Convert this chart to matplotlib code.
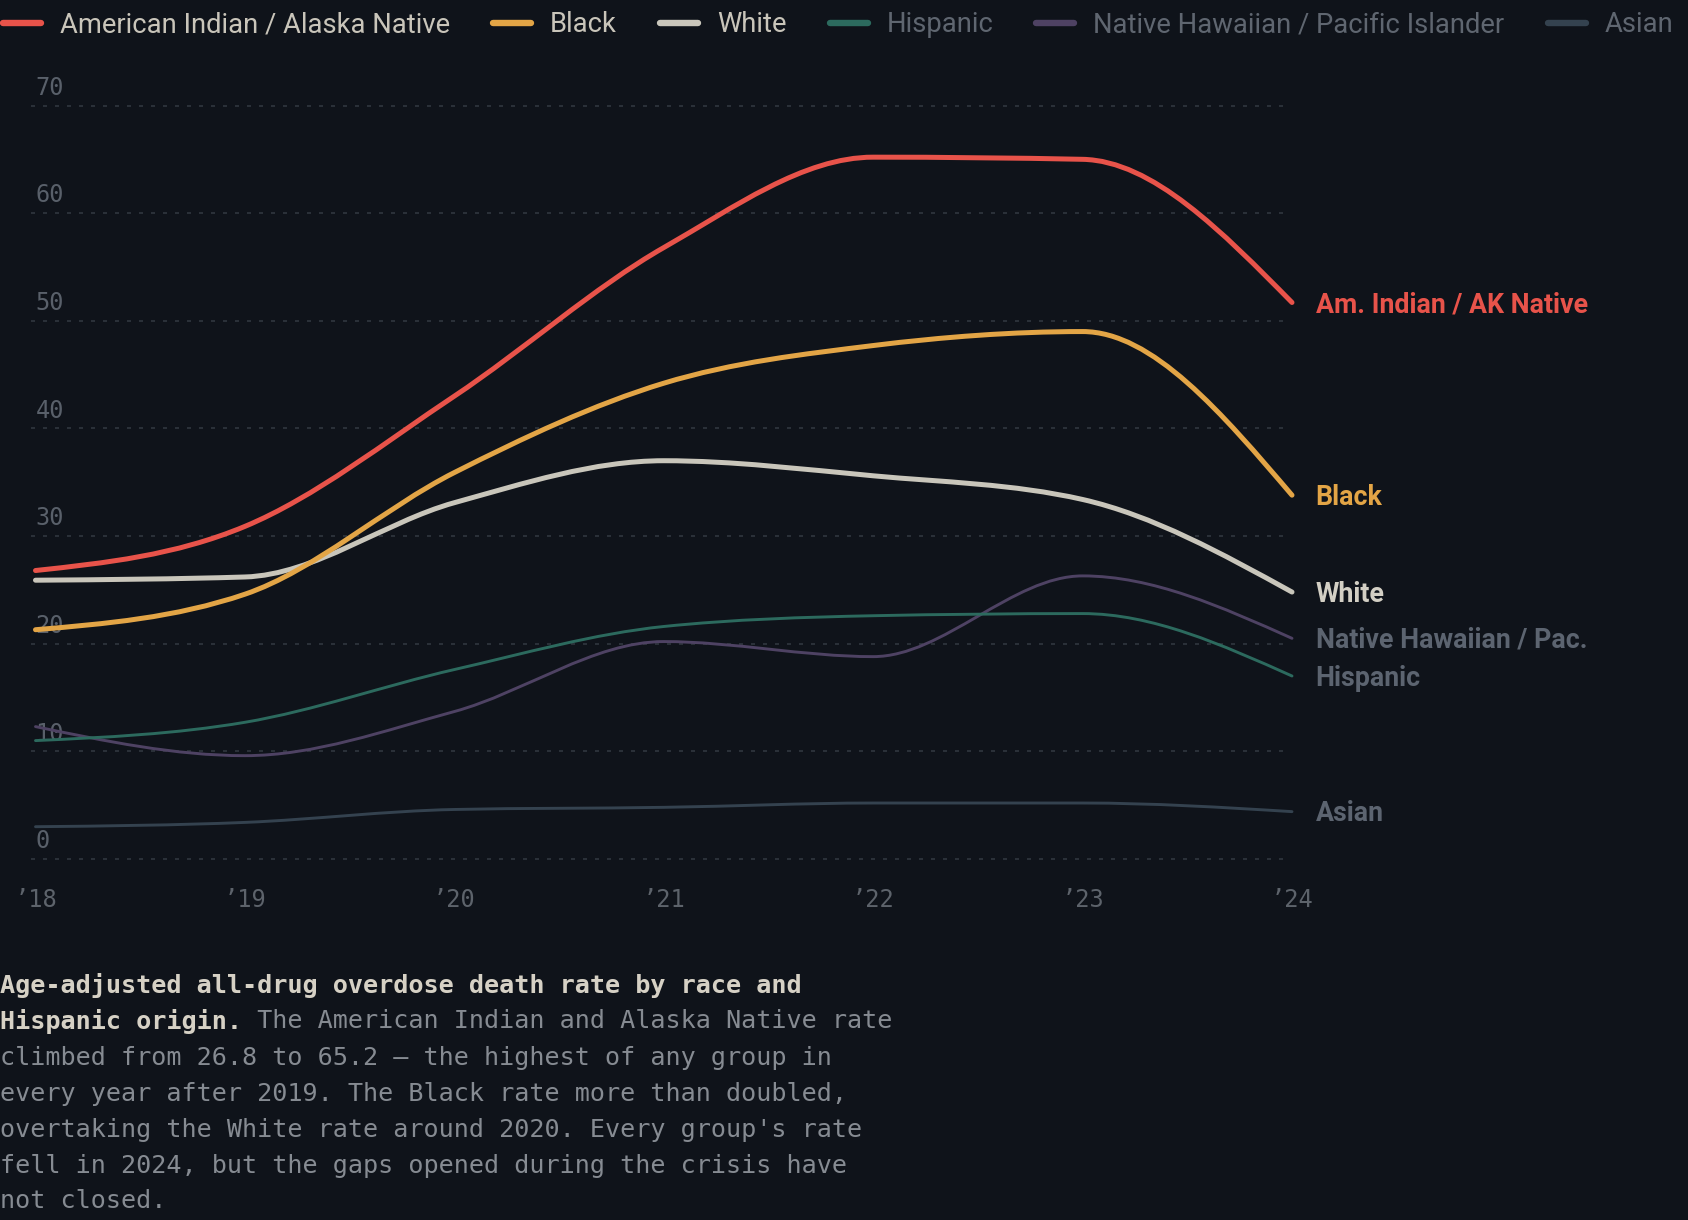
import numpy as np
import matplotlib.pyplot as plt
from matplotlib.path import Path
from matplotlib.patches import PathPatch


W, H = 1688, 1220
BG = '#0f131a'

years = [2018, 2019, 2020, 2021, 2022, 2023, 2024]
year_labels = ['\u201918', '\u201919', '\u201920', '\u201921', '\u201922', '\u201923', '\u201924']

aian = [26.8, 30.9, 43.0, 56.8, 65.2, 65.0, 51.7]
black = [21.3, 24.6, 35.9, 44.2, 47.7, 49.0, 33.8]
white = [25.9, 26.2, 33.1, 37.0, 35.6, 33.4, 24.8]
hispanic = [11.0, 12.7, 17.6, 21.6, 22.6, 22.8, 17.0]
nhpi = [12.3, 9.6, 13.7, 20.2, 18.8, 26.3, 20.5]
asian = [3.0, 3.4, 4.6, 4.8, 5.2, 5.2, 4.4]

legend_names = ['American Indian / Alaska Native', 'Black', 'White', 'Hispanic',
                'Native Hawaiian / Pacific Islander', 'Asian']
end_names = ['Am. Indian / AK Native', 'Black', 'White', 'Hispanic',
             'Native Hawaiian / Pac.', 'Asian']
series = [aian, black, white, hispanic, nhpi, asian]
colors = ['#e8534a', '#e3a546', '#c9c6bb', '#2c6a5e', '#4e4263', '#34424f']
widths = [3.6, 3.6, 3.6, 2.1, 2.1, 2.1]
legend_text_colors = ['#c9c5ba', '#c9c5ba', '#c9c5ba', '#5f6670', '#5f6670', '#5f6670']
end_colors = ['#e8534a', '#e3a546', '#d3cfc4', '#5c6470', '#5c6470', '#5c6470']

yticks = [0, 10, 20, 30, 40, 50, 60, 70]

caption_bold = ['Age-adjusted all-drug overdose death rate by race and',
                'Hispanic origin.']
caption_rest = ['',
                ' The American Indian and Alaska Native rate',
                'climbed from 26.8 to 65.2 \u2014 the highest of any group in',
                'every year after 2019. The Black rate more than doubled,',
                "overtaking the White rate around 2020. Every group's rate",
                'fell in 2024, but the gaps opened during the crisis have',
                'not closed.']

MONO = ['DejaVu Sans Mono']
SANS = ['Roboto', 'DejaVu Sans']


def monotone_path(xs, ys):
    # same smoothing as d3.curveMonotoneX, drawn as cubic bezier segments
    xs = np.asarray(xs, float)
    ys = np.asarray(ys, float)
    n = len(xs)
    h = np.diff(xs)
    s = np.diff(ys) / h
    t = np.zeros(n)
    for i in range(1, n - 1):
        p = (s[i - 1] * h[i] + s[i] * h[i - 1]) / (h[i - 1] + h[i])
        t[i] = (np.sign(s[i - 1]) + np.sign(s[i])) * min(abs(s[i - 1]), abs(s[i]), 0.5 * abs(p))
    t[0] = (3 * s[0] - t[1]) / 2
    t[-1] = (3 * s[-1] - t[-2]) / 2
    verts = [(xs[0], ys[0])]
    codes = [Path.MOVETO]
    for i in range(n - 1):
        dx = h[i] / 3
        verts += [(xs[i] + dx, ys[i] + dx * t[i]),
                  (xs[i + 1] - dx, ys[i + 1] - dx * t[i + 1]),
                  (xs[i + 1], ys[i + 1])]
        codes += [Path.CURVE4] * 3
    return Path(verts, codes)


fig = plt.figure(figsize=(W / 100, H / 100), dpi=100, facecolor=BG)
left, right = 35.5 / W, 1292 / W
bottom, top = 1 - 859 / H, 1 - 105.5 / H
ax = fig.add_axes([left, bottom, right - left, top - bottom])
ax.set_facecolor(BG)
ax.set_xlim(years[0], years[-1])
ax.set_ylim(0, 70)
for sp in ax.spines.values():
    sp.set_visible(False)

# grid + y labels sitting above each line
for v in yticks:
    ax.hlines(v, years[0] - 0.02, years[-1] - 0.02, colors='#2a3038', lw=1.44,
              linestyles=(0, (2, 4)), zorder=0, clip_on=False)
    ax.text(years[0], v + 1.0, str(v), fontsize=17, family=MONO, color='#59606a',
            ha='left', va='baseline', zorder=1)
ax.set_yticks([])

ax.set_xticks(years, labels=year_labels)
ax.tick_params(axis='x', length=0, pad=21, labelsize=17, labelcolor='#5d636b')
for lab in ax.get_xticklabels():
    lab.set_family(MONO)

# thin series first, thick on top
order = [5, 4, 3, 2, 1, 0]
for k in order:
    patch = PathPatch(monotone_path(years, series[k]), fill=False, edgecolor=colors[k],
                      lw=widths[k], capstyle='round', joinstyle='round',
                      clip_on=False, zorder=3 + (6 - k))
    ax.add_patch(patch)

# direct labels at the line ends
for k in range(6):
    ax.annotate(end_names[k], xy=(years[-1], series[k][-1]), xytext=(17, -6.9),
                textcoords='offset points', fontsize=19.3, family=SANS,
                fontweight='bold', color=end_colors[k], ha='left', va='baseline',
                annotation_clip=False)

# legend row across the top
renderer = fig.canvas.get_renderer()
x = 0.0
leg_base = 1 - 32.5 / H
leg_mid = 1 - 23 / H
for k in range(6):
    fig.add_artist(plt.Line2D([(x + 3) / W, (x + 41) / W], [leg_mid, leg_mid],
                              color=colors[k], lw=4.6, solid_capstyle='round'))
    t = fig.text((x + 60) / W, leg_base, legend_names[k], fontsize=19.7, family=SANS,
                 color=legend_text_colors[k], ha='left', va='baseline')
    bb = t.get_window_extent(renderer)
    x = bb.x1 + 40

# caption
base0 = 992.5
for i in range(7):
    y = 1 - (base0 + 36 * i) / H
    x0 = 0.0
    if i < len(caption_bold):
        tb = fig.text(0, y, caption_bold[i], fontsize=18.1, family=MONO, fontweight='bold',
                      color='#d6d1c5', ha='left', va='baseline')
        x0 = tb.get_window_extent(renderer).x1 / W
    if caption_rest[i]:
        fig.text(x0, y, caption_rest[i], fontsize=18.1, family=MONO,
                 color='#868b92', ha='left', va='baseline')

fig.savefig('out.png', dpi=100, facecolor=BG)
